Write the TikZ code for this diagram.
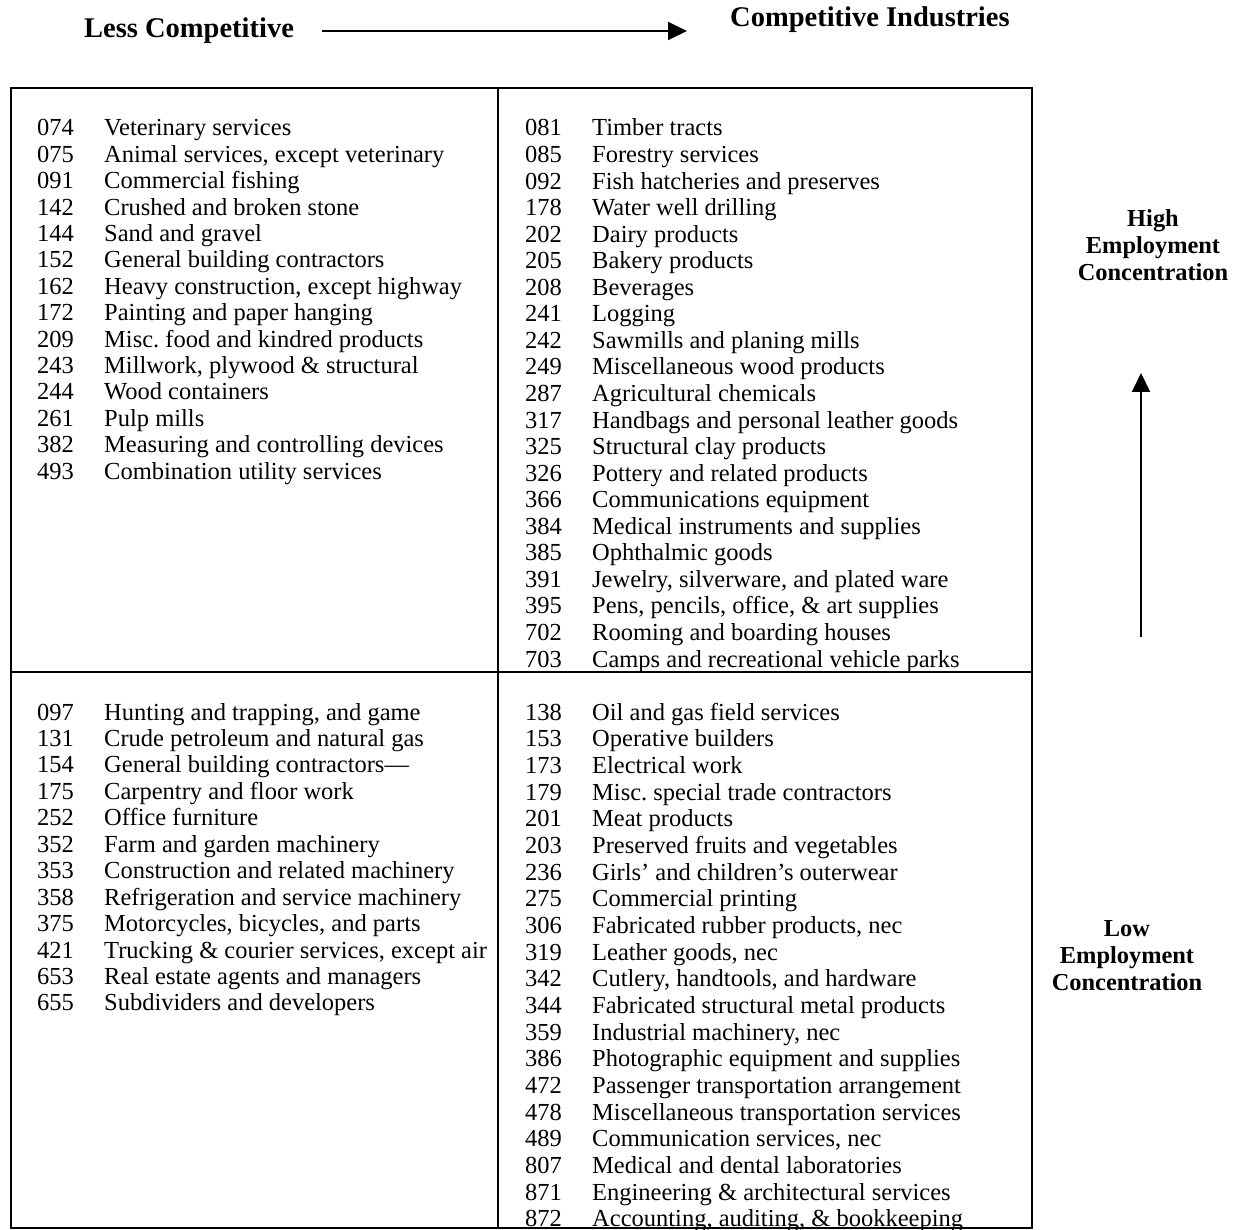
\documentclass[tikz,border=0pt]{standalone}
\usepackage{fontspec}
\setmainfont{Liberation Serif}
\frenchspacing
\usetikzlibrary{arrows.meta}
\tikzset{
  codetxt/.style={anchor=base west, inner sep=0pt, font=\fontsize{24.5}{26}\selectfont},
  itemtxt/.style={anchor=base west, inner sep=0pt, font=\fontsize{24.5}{26}\selectfont},
  headtxt/.style={anchor=base west, inner sep=0pt, font=\fontsize{28.5}{30}\selectfont\bfseries},
  sidetxt/.style={anchor=base, inner sep=0pt, align=center, font=\fontsize{24.4}{27}\selectfont\bfseries},
  frame/.style={line width=2.8pt, line cap=rect},
  bigarrow/.style={line width=2pt, -{Triangle[length=19pt,width=18pt]}}
}
\begin{document}
\begin{tikzpicture}[x=1pt,y=-1pt]
\useasboundingbox (0,0) rectangle (1237,1230);
% header
\node[headtxt] (less) at (84,38) {Less Competitive};
\node[headtxt] (comp) at (730,27) {Competitive Industries};
\coordinate (h1) at (322,31);
\coordinate (h2) at (687,31);
\draw[bigarrow] (h1) -- (h2);
% frame
\draw[frame] (11,88) rectangle (1032,1228);
\draw[frame] (11,672) -- (1032,672);
\draw[frame] (498,88) -- (498,1228);
% top-left
\foreach \c/\t [count=\i from 0] in {
 074/{Veterinary services},
 075/{Animal services, except veterinary},
 091/{Commercial fishing},
 142/{Crushed and broken stone},
 144/{Sand and gravel},
 152/{General building contractors},
 162/{Heavy construction, except highway},
 172/{Painting and paper hanging},
 209/{Misc. food and kindred products},
 243/{Millwork, plywood \& structural},
 244/{Wood containers},
 261/{Pulp mills},
 382/{Measuring and controlling devices},
 493/{Combination utility services}}{
  \pgfmathsetmacro\yy{136+26.385*\i}
  \node[codetxt] (tlc\i) at (37,\yy) {\c};
  \node[itemtxt] (tlt\i) at (104,\yy) {\t};
}
% top-right
\foreach \c/\t [count=\i from 0] in {
 081/{Timber tracts},
 085/{Forestry services},
 092/{Fish hatcheries and preserves},
 178/{Water well drilling},
 202/{Dairy products},
 205/{Bakery products},
 208/{Beverages},
 241/{Logging},
 242/{Sawmills and planing mills},
 249/{Miscellaneous wood products},
 287/{Agricultural chemicals},
 317/{Handbags and personal leather goods},
 325/{Structural clay products},
 326/{Pottery and related products},
 366/{Communications equipment},
 384/{Medical instruments and supplies},
 385/{Ophthalmic goods},
 391/{Jewelry, silverware, and plated ware},
 395/{Pens, pencils, office, \& art supplies},
 702/{Rooming and boarding houses},
 703/{Camps and recreational vehicle parks}}{
  \pgfmathsetmacro\yy{136+26.55*\i}
  \node[codetxt] (trc\i) at (525,\yy) {\c};
  \node[itemtxt] (trt\i) at (592,\yy) {\t};
}
% bottom-left
\foreach \c/\t [count=\i from 0] in {
 097/{Hunting and trapping, and game},
 131/{Crude petroleum and natural gas},
 154/{General building contractors---},
 175/{Carpentry and floor work},
 252/{Office furniture},
 352/{Farm and garden machinery},
 353/{Construction and related machinery},
 358/{Refrigeration and service machinery},
 375/{Motorcycles, bicycles, and parts},
 421/{Trucking \& courier services, except air},
 653/{Real estate agents and managers},
 655/{Subdividers and developers}}{
  \pgfmathsetmacro\yy{720+26.45*\i}
  \node[codetxt] (blc\i) at (37,\yy) {\c};
  \node[itemtxt] (blt\i) at (104,\yy) {\t};
}
% bottom-right
\foreach \c/\t [count=\i from 0] in {
 138/{Oil and gas field services},
 153/{Operative builders},
 173/{Electrical work},
 179/{Misc. special trade contractors},
 201/{Meat products},
 203/{Preserved fruits and vegetables},
 236/{Girls’ and children’s outerwear},
 275/{Commercial printing},
 306/{Fabricated rubber products, nec},
 319/{Leather goods, nec},
 342/{Cutlery, handtools, and hardware},
 344/{Fabricated structural metal products},
 359/{Industrial machinery, nec},
 386/{Photographic equipment and supplies},
 472/{Passenger transportation arrangement},
 478/{Miscellaneous transportation services},
 489/{Communication services, nec},
 807/{Medical and dental laboratories},
 871/{Engineering \& architectural services},
 872/{Accounting, auditing, \& bookkeeping}}{
  \pgfmathsetmacro\yy{720+26.68*\i}
  \node[codetxt] (brc\i) at (525,\yy) {\c};
  \node[itemtxt] (brt\i) at (592,\yy) {\t};
}
% side labels
\node[sidetxt] (high) at (1153,281) {High\\Employment\\Concentration};
\node[sidetxt] (low) at (1127,990) {Low\\Employment\\Concentration};
\coordinate (v1) at (1141,637);
\coordinate (v2) at (1141,373);
\draw[bigarrow] (v1) -- (v2);
\end{tikzpicture}
\end{document}
